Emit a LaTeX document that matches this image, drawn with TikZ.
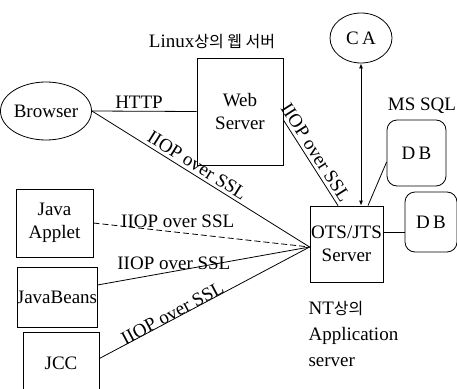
\documentclass[tikz,border=0pt]{standalone}
\usepackage{fontspec}
\setmainfont{Liberation Serif}
\newfontfamily\kr{Noto Sans CJK KR}
\usetikzlibrary{shapes.geometric,arrows.meta}
\begin{document}
\begin{tikzpicture}[x=1pt,y=-1pt,
  every node/.style={font=\fontsize{19}{23}\selectfont},
  lw/.style={line width=0.8pt},
  boxn/.style={draw,lw,rectangle,inner sep=0pt,align=center},
  ovn/.style={draw,lw,ellipse,inner sep=0pt},
  dbn/.style={draw,lw,rectangle,rounded corners=10pt,inner sep=0pt},
  conn/.style={lw},
  lbl/.style={inner sep=1pt}]
\useasboundingbox (0,0) rectangle (457,388);
% nodes
\node[ovn,minimum width=78,minimum height=58] (browser) at (46,111) {Browser};
\node[boxn,minimum width=86,minimum height=107] (web) at (240,111.5) {Web\\Server};
\node[ovn,minimum width=62,minimum height=50] (ca) at (361,38) {C\,A};
\node[boxn,minimum width=73,minimum height=76] (ots) at (346.5,244) {OTS/JTS\\Server};
\node[dbn,minimum width=59,minimum height=66] (db1) at (416.5,153) {D\,B};
\node[dbn,minimum width=52,minimum height=60] (db2) at (431,222) {D\,B};
\node[boxn,minimum width=77,minimum height=68] (applet) at (54.5,223) {Java\\Applet};
\node[boxn,minimum width=74,minimum height=60] (beans) at (57,297) {JavaBeans};
\node[boxn,minimum width=76,minimum height=63] (jcc) at (61,363.5) {JCC};
% free labels
\node (title) at (212,42) {Linux{\kr\fontsize{16}{19}\selectfont 상의 웹 서버}};
\node (mssql) at (422,106) {MS SQL};
\node[align=left,anchor=west,font=\fontsize{19}{26}\selectfont] (nt) at (305,334) {NT{\kr\fontsize{16}{19}\selectfont 상의}\\Application\\server};
% coordinates
\coordinate (hub) at ([yshift=-3pt]ots.west);
\coordinate (w1) at ([yshift=-8.5pt]web.east);
\coordinate (o1) at ([xshift=-8.5pt]ots.north);
\coordinate (o2) at ([xshift=21.5pt]ots.north);
\coordinate (d1) at ([yshift=-9pt]db1.west);
\coordinate (d2) at ([yshift=-10pt]db2.west);
\coordinate (b1) at ([yshift=12pt]beans.east);
\coordinate (j1) at ([yshift=5pt]jcc.east);
% connectors
\draw[conn] (browser.east) -- node[lbl,above=1pt,pos=0.45] (lhttp) {HTTP} (web.west);
\draw[conn] (browser.east) -- node[lbl,sloped,above=2pt,pos=0.46] (l1) {IIOP over SSL} (hub);
\draw[conn] (w1) -- node[lbl,sloped,above=2pt,pos=0.44] (l2) {IIOP over SSL} (o1);
\draw[conn,{Latex[length=5pt,width=4pt]}-{Latex[length=5pt,width=4pt]}] (ca.south) -- (ca.south |- ots.north);
\draw[conn] (o2) -- (d1);
\draw[conn] (d2) -- (d2 -| ots.east);
\draw[conn,dash pattern=on 6pt off 3pt] (applet.east) -- node[lbl,above=3pt,pos=0.39] (l3) {IIOP over SSL} (hub);
\draw[conn] (b1) -- node[lbl,above=0pt,pos=0.36] (l4) {IIOP over SSL} (hub);
\draw[conn] (j1) -- node[lbl,sloped,above=-2pt,pos=0.36] (l5) {IIOP over SSL} (hub);
\end{tikzpicture}
\end{document}
